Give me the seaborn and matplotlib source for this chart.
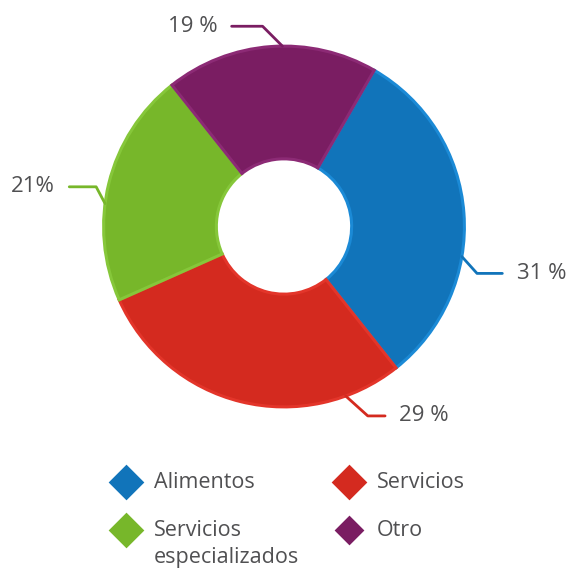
import numpy as np
import matplotlib
matplotlib.use("Agg")
import matplotlib.pyplot as plt
import seaborn as sns

# chart data
categories = ["Alimentos", "Servicios", "Servicios\nespecializados", "Otro"]
shares = [31, 29, 21, 19]
pct_labels = ["31 %", "29 %", "21%", "19 %"]
colors = ["#1174ba", "#d42a1f", "#77b72a", "#7a1d62"]
edge_colors = ["#1b8ad6", "#e3352a", "#86c73a", "#8c2a75"]

sns.set_theme(style="white")
plt.rcParams["font.family"] = ["Open Sans", "DejaVu Sans"]
text_color = "#505052"

fig = plt.figure(figsize=(5.7, 5.7), dpi=100)
# one data unit = pie radius (~177 px)
ax = fig.add_axes([1 / 570, 118 / 570, 566 / 570, 451 / 570])
ax.set_xlim(-1.6, 1.6)
ax.set_ylim(-1.3, 1.25)
ax.set_aspect("equal")
ax.axis("off")

wedges, _ = ax.pie(shares, colors=colors, startangle=60, counterclock=False,
                   radius=1.0,
                   wedgeprops=dict(width=0.625, linewidth=2.2))
for w, ec in zip(wedges, edge_colors):
    w.set_edgecolor(ec)

# leader lines: (attach angle on the ring, text position, slope of the diagonal, ha)
leaders = [
    (-9.6, (1.29, -0.26), -48, "left"),
    (-70, (0.64, -1.05), -42, "left"),
    (172.7, (-1.27, 0.22), -62, "right"),
    (90.5, (-0.37, 1.11), -45, "right"),
]
for (ang, txy, slope, ha), lab, col in zip(leaders, pct_labels, colors):
    a = np.deg2rad(ang)
    xy = (np.cos(a), np.sin(a))
    ax.annotate(lab, xy=xy, xytext=txy, ha=ha, va="center",
                fontsize=16, color=text_color, fontweight="medium",
                arrowprops=dict(arrowstyle="-", color=col, lw=2,
                                shrinkA=8, shrinkB=0,
                                connectionstyle=f"angle,angleA=0,angleB={slope},rad=0"))

# legend drawn by hand on a pixel-unit overlay: 2x2 grid, diamond + label
lax = fig.add_axes([0, 0, 1, 1])
lax.set_xlim(0, 570)
lax.set_ylim(570, 0)
lax.axis("off")
slot_x = [126, 349]
slot_y = [482, 530]
marker_sizes = [330, 330, 330, 230]
for i, (cat, col) in enumerate(zip(categories, colors)):
    cx = slot_x[i % 2]
    cy = slot_y[i // 2]
    lax.scatter([cx], [cy], marker="D", s=marker_sizes[i], color=col, linewidths=0)
    lax.text(cx + 28, cy - 10, cat, ha="left", va="top", fontsize=15.5,
             color=text_color, linespacing=1.4)

plt.savefig("out.png", dpi=100)
